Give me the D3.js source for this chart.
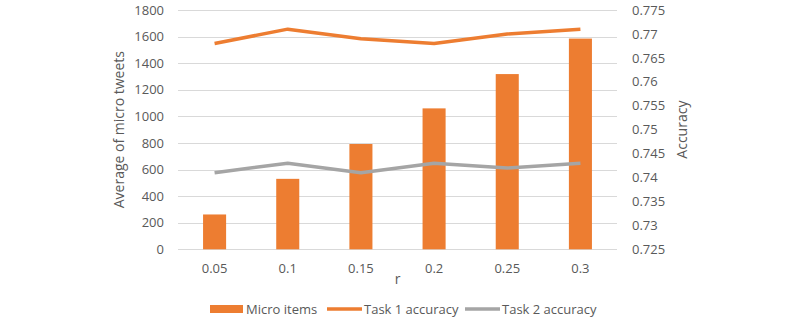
<!DOCTYPE html>
<meta charset="utf-8">
<head>
  <title>Micro tweets vs accuracy</title>
</head>

<style>
body {
  margin: 0;
  font-family: "Open Sans", sans-serif;
  background: #fff;
}
#chart text {
  fill: #595959;
}
</style>

<body>
  <div id="chart"></div>

  <script src="https://cdnjs.cloudflare.com/ajax/libs/d3/7.8.5/d3.min.js"></script>
  <script>

  var categories = ["0.05", "0.1", "0.15", "0.2", "0.25", "0.3"];
  var microItems = [262, 530, 792, 1060, 1318, 1585];
  var task1 = [0.768, 0.771, 0.769, 0.768, 0.770, 0.771];
  var task2 = [0.741, 0.743, 0.741, 0.743, 0.742, 0.743];
  var leftTicks = [0, 200, 400, 600, 800, 1000, 1200, 1400, 1600, 1800];
  var rightTicks = [0.725, 0.73, 0.735, 0.74, 0.745, 0.75, 0.755, 0.76, 0.765, 0.77, 0.775];

  var width = 800, height = 321;
  var plotLeft = 178, plotRight = 617, plotTop = 10, plotBottom = 249.3;

  var orange = "#ED7D31", gray = "#A5A5A5";

  var svg = d3.select("#chart").append("svg")
    .attr("width", width)
    .attr("height", height);

  var x = d3.scaleBand().domain(categories).range([plotLeft, plotRight]).paddingInner(0.685).paddingOuter(0.3425);
  var xPoint = d3.scalePoint().domain(categories).range([plotLeft, plotRight]).padding(0.5);
  var y = d3.scaleLinear().domain([0, 1800]).range([plotBottom, plotTop]);
  var y2 = d3.scaleLinear().domain([0.725, 0.775]).range([plotBottom, plotTop]);

  // gridlines
  svg.append("g").selectAll("line")
    .data(leftTicks)
    .enter().append("line")
    .attr("x1", plotLeft).attr("x2", plotRight)
    .attr("y1", d => Math.round(y(d)) + 0.5)
    .attr("y2", d => Math.round(y(d)) + 0.5)
    .attr("stroke", "#d9d9d9")
    .attr("stroke-width", 1);

  // left axis
  var yAxis = d3.axisLeft(y).tickValues(leftTicks).tickSize(0).tickPadding(14)
    .tickFormat(d3.format("d"));
  var gy = svg.append("g").attr("transform", "translate(" + plotLeft + ",0)").call(yAxis);
  gy.select(".domain").remove();
  gy.selectAll("text").style("font-size", "13px").style("font-family", "Open Sans");

  // right axis
  var y2Axis = d3.axisRight(y2).tickValues(rightTicks).tickSize(0).tickPadding(15)
    .tickFormat(d => String(+d.toFixed(3)));
  var gy2 = svg.append("g").attr("transform", "translate(" + plotRight + ",0)").call(y2Axis);
  gy2.select(".domain").remove();
  gy2.selectAll("text").style("font-size", "13px").style("font-family", "Open Sans");

  // x axis
  var xAxis = d3.axisBottom(x).tickSize(0).tickPadding(14);
  var gx = svg.append("g").attr("transform", "translate(0," + plotBottom + ")").call(xAxis);
  gx.select(".domain").remove();
  gx.selectAll("text").style("font-size", "13px").style("font-family", "Open Sans");

  // bars
  svg.append("g").selectAll("rect")
    .data(microItems)
    .enter().append("rect")
    .attr("x", (d, i) => x(categories[i]))
    .attr("width", x.bandwidth())
    .attr("y", d => y(d))
    .attr("height", d => plotBottom - y(d))
    .attr("fill", orange);

  var line = d3.line()
    .x((d, i) => xPoint(categories[i]))
    .y(d => y2(d));

  svg.append("path").datum(task1)
    .attr("d", line).attr("fill", "none")
    .attr("stroke", orange).attr("stroke-width", 3.5).attr("stroke-linejoin", "round");

  svg.append("path").datum(task2)
    .attr("d", line).attr("fill", "none")
    .attr("stroke", gray).attr("stroke-width", 3.5).attr("stroke-linejoin", "round");

  // axis titles
  svg.append("text")
    .attr("transform", "translate(124," + ((plotTop + plotBottom) / 2) + ") rotate(-90)")
    .attr("text-anchor", "middle")
    .style("font-size", "14px")
    .text("Average of micro tweets");

  svg.append("text")
    .attr("transform", "translate(687," + ((plotTop + plotBottom) / 2) + ") rotate(-90)")
    .attr("text-anchor", "middle")
    .style("font-size", "14px")
    .text("Accuracy");

  svg.append("text")
    .attr("x", (plotLeft + plotRight) / 2)
    .attr("y", 284)
    .attr("text-anchor", "middle")
    .style("font-size", "14px")
    .text("r");

  // legend
  var legend = svg.append("g").attr("transform", "translate(0,309)");
  legend.append("rect").attr("x", 210).attr("y", -4).attr("width", 33).attr("height", 8).attr("fill", orange);
  legend.append("text").attr("x", 246).attr("y", 5).style("font-size", "13px").text("Micro items");
  legend.append("line").attr("x1", 327).attr("x2", 362).attr("y1", 0).attr("y2", 0)
    .attr("stroke", orange).attr("stroke-width", 3.5);
  legend.append("text").attr("x", 364).attr("y", 5).style("font-size", "13px").text("Task 1 accuracy");
  legend.append("line").attr("x1", 465).attr("x2", 500).attr("y1", 0).attr("y2", 0)
    .attr("stroke", gray).attr("stroke-width", 3.5);
  legend.append("text").attr("x", 502).attr("y", 5).style("font-size", "13px").text("Task 2 accuracy");

  </script>
</body>
</html>
